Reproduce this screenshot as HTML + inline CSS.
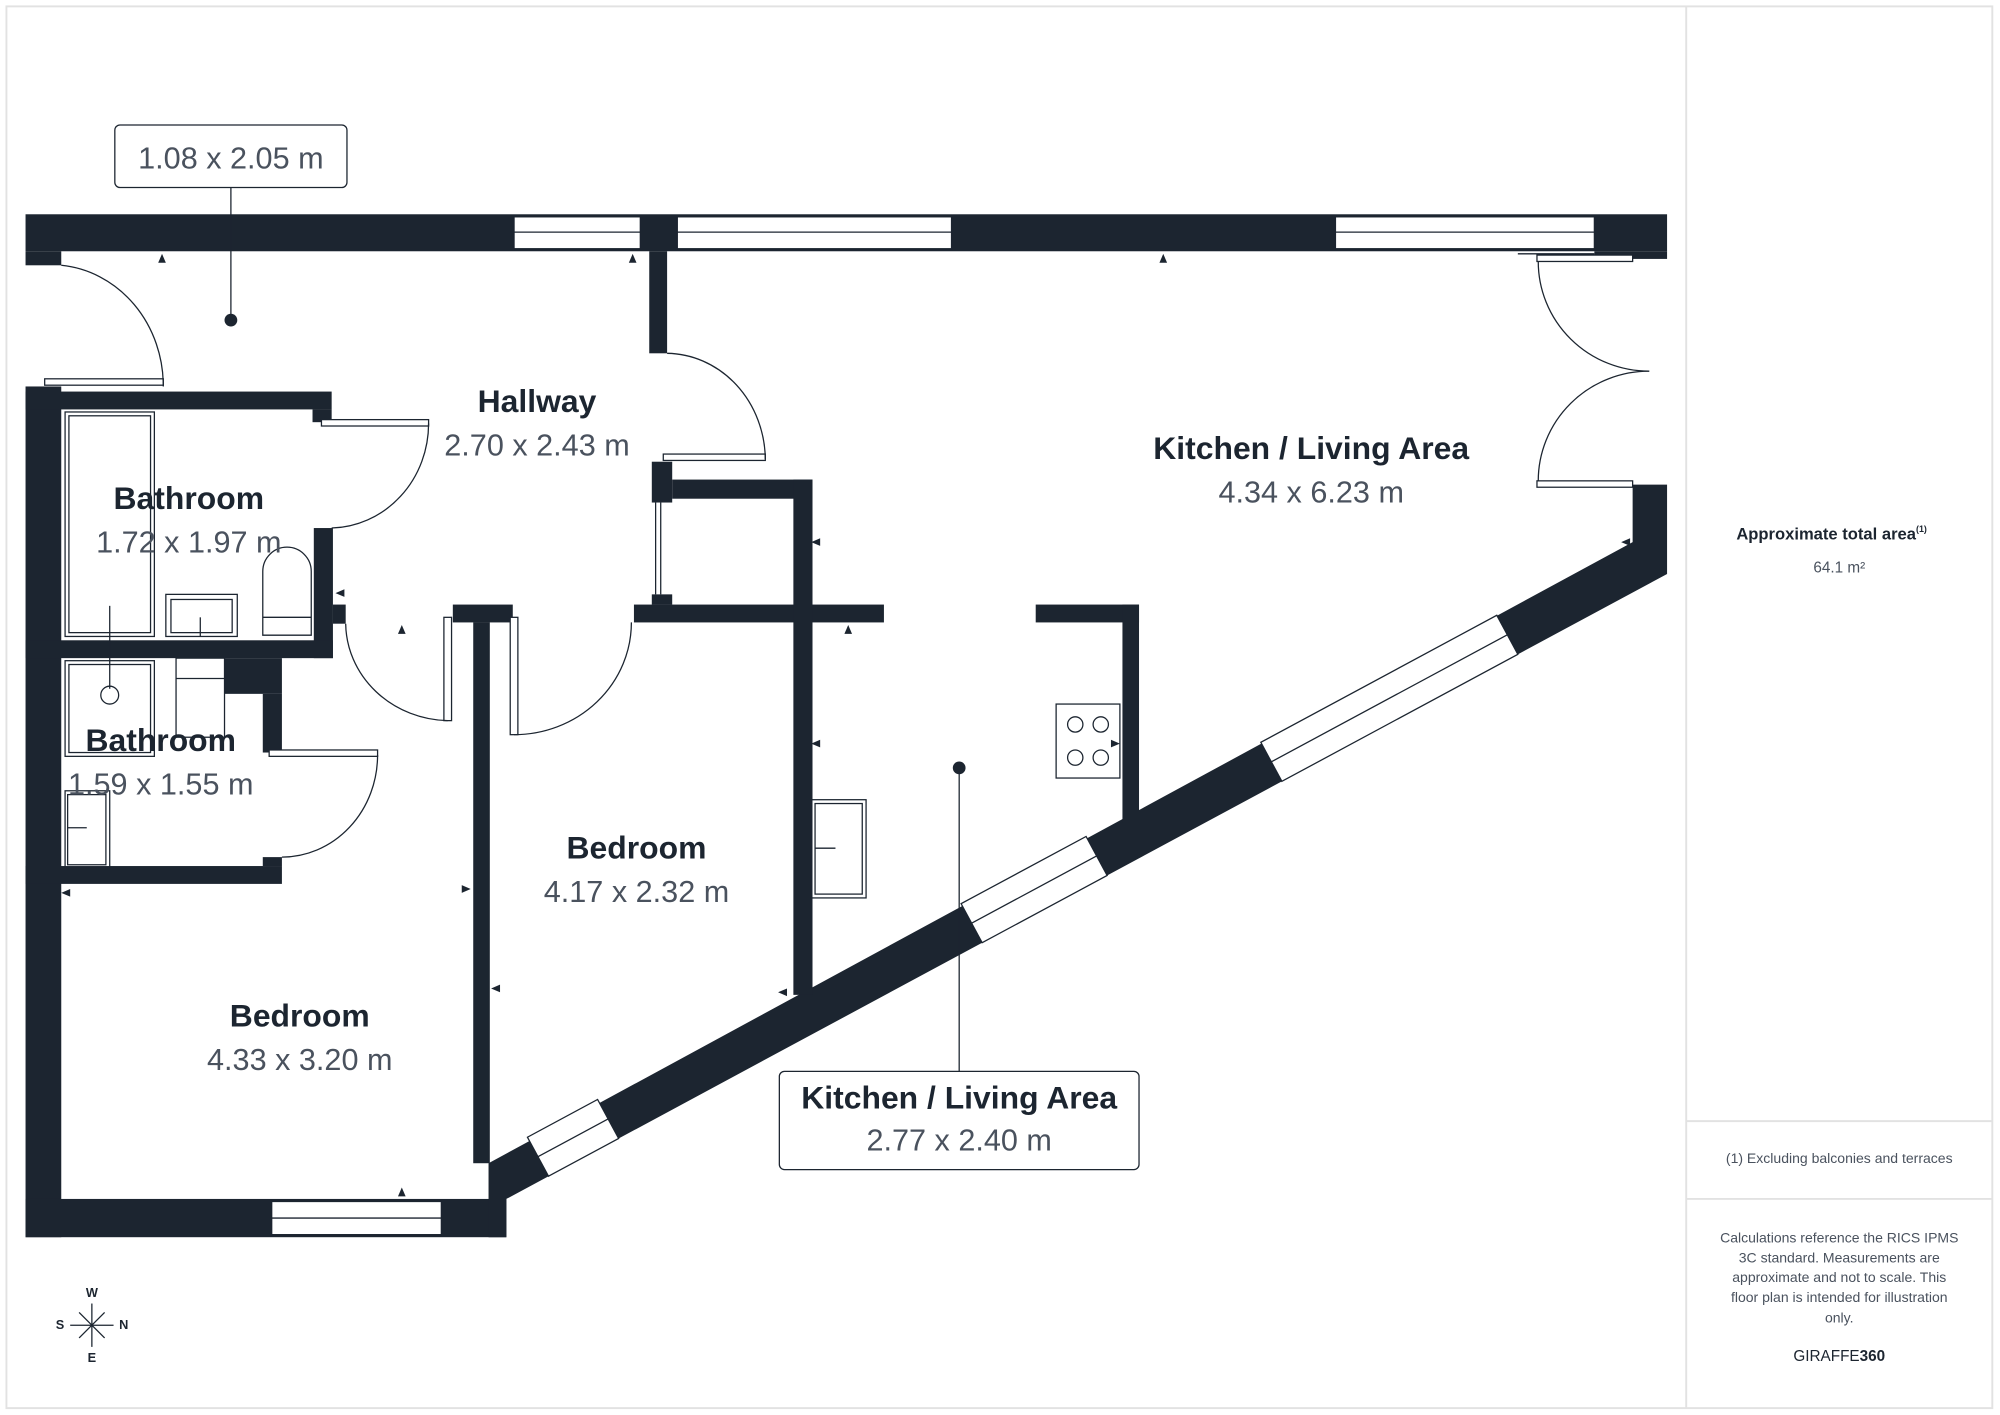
<!DOCTYPE html>
<html><head><meta charset="utf-8"><style>
html,body{margin:0;padding:0;background:#fff}
svg{display:block}
text{font-family:"Liberation Sans",sans-serif}
.n{font-weight:bold;fill:#1c2530;font-size:25px;text-anchor:middle}
.d{fill:#4a525e;font-size:24px;text-anchor:middle}
</style></head><body>
<svg width="2000" height="1415" viewBox="0 0 1568 1109.4" xmlns="http://www.w3.org/2000/svg">
<rect x="0" y="0" width="1568" height="1110" fill="#fff"/>
<rect x="5" y="5" width="1557" height="1099" fill="none" stroke="#e2e2e2" stroke-width="1.5"/>
<line x1="1322" y1="5" x2="1322" y2="1104" stroke="#e2e2e2" stroke-width="1.5"/>
<line x1="1322" y1="879" x2="1562" y2="879" stroke="#e2e2e2" stroke-width="1.5"/>
<line x1="1322" y1="940" x2="1562" y2="940" stroke="#e2e2e2" stroke-width="1.5"/>
<text x="1436" y="423" text-anchor="middle" font-size="13" font-weight="bold" fill="#1c2530">Approximate total area<tspan font-size="7" dy="-6">(1)</tspan></text>
<text x="1442" y="449" text-anchor="middle" font-size="12" fill="#4a525e">64.1 m²</text>
<text x="1442" y="912" text-anchor="middle" font-size="11" fill="#4a525e">(1) Excluding balconies and terraces</text>
<g font-size="11" fill="#4a525e" text-anchor="middle">
<text x="1442" y="974">Calculations reference the RICS IPMS</text>
<text x="1442" y="990">3C standard. Measurements are</text>
<text x="1442" y="1005">approximate and not to scale. This</text>
<text x="1442" y="1021">floor plan is intended for illustration</text>
<text x="1442" y="1037">only.</text>
</g>
<text x="1442" y="1067" text-anchor="middle" font-size="12" fill="#1c2530">GIRAFFE<tspan font-weight="bold">360</tspan></text>

<g fill="#1c2530">
<rect x="20" y="168" width="1287" height="29"/>
<rect x="20" y="197" width="28" height="11"/>
<rect x="20" y="303" width="28" height="667"/>
<rect x="20" y="940" width="377" height="30"/>
<rect x="1250" y="197" width="57" height="6"/>
<polygon points="1280,380 1307,380 1307,450 397,940 397,970 383,970 383,912 1280,425"/>
<rect x="20" y="307" width="240" height="14"/>
<rect x="245" y="321" width="15" height="10"/>
<rect x="246" y="414" width="15" height="102"/>
<rect x="261" y="474" width="10" height="15"/>
<rect x="20" y="502" width="241" height="14"/>
<rect x="176" y="516" width="45" height="28"/>
<rect x="206" y="544" width="15" height="46"/>
<rect x="20" y="679" width="201" height="14"/>
<rect x="206" y="672" width="15" height="7"/>
<rect x="355" y="474" width="47" height="14"/>
<rect x="371" y="488" width="13" height="424"/>
<rect x="497" y="474" width="196" height="14"/>
<rect x="509" y="197" width="14" height="80"/>
<rect x="511" y="362" width="16" height="32"/>
<rect x="511" y="466" width="16" height="8"/>
<rect x="527" y="376" width="110" height="15"/>
<rect x="622" y="376" width="15" height="404"/>
<rect x="812" y="474" width="81" height="14"/>
<rect x="880" y="474" width="13" height="171"/>
</g>
<g fill="#fff" stroke="#1c2530" stroke-width="1">
<rect x="403" y="170" width="99" height="25"/>
<rect x="531" y="170" width="215" height="25"/>
<rect x="1047" y="170" width="203" height="25"/>
<rect x="213" y="942" width="133" height="26"/>
<polygon points="1005,612.6 1190,513 1173.5,482.4 988.5,582"/>
<polygon points="770,739.1 868,686.4 851.5,655.8 753.5,708.5"/>
<polygon points="430,922.2 485,892.6 468.5,862 413.5,891.6"/>
</g>
<g stroke="#1c2530" stroke-width="1" fill="none">
<line x1="403" y1="182" x2="502" y2="182"/><line x1="531" y1="182" x2="746" y2="182"/><line x1="1047" y1="182" x2="1250" y2="182"/>
<line x1="213" y1="955" x2="346" y2="955"/>
<line x1="996.75" y1="597.3" x2="1181.75" y2="497.7"/>
<line x1="761.75" y1="723.8" x2="859.75" y2="671.1"/>
<line x1="421.75" y1="906.9" x2="476.75" y2="877.3"/>
<rect x="35" y="297" width="93" height="5" fill="#fff"/>
<path d="M48,208 A88,95 0 0 1 128,303"/>
<rect x="252" y="329" width="84" height="5" fill="#fff"/>
<path d="M336,332 A78,82 0 0 1 260,414"/>
<rect x="520" y="356" width="80" height="5" fill="#fff"/>
<path d="M523,277 A78,84 0 0 1 600,360"/>
<rect x="211" y="588" width="85" height="5" fill="#fff"/>
<path d="M296,592 A75,80 0 0 1 221,672"/>
<rect x="348" y="484" width="6" height="81" fill="#fff"/>
<path d="M271,489 A82,77 0 0 0 351,565"/>
<rect x="400" y="484" width="6" height="92" fill="#fff"/>
<path d="M495,488 A92,88 0 0 1 403,576"/>
<line x1="514" y1="394" x2="514" y2="466"/><line x1="518" y1="394" x2="518" y2="466"/>
<line x1="1190" y1="199" x2="1250" y2="199"/>
<rect x="1205" y="200" width="75" height="5" fill="#fff"/>
<rect x="1205" y="377" width="75" height="5" fill="#fff"/>
<path d="M1206,205 A87,86 0 0 0 1293,291"/>
<path d="M1293,291 A87,86 0 0 0 1206,377"/>
<rect x="51" y="323" width="70" height="176"/><rect x="54" y="326" width="64" height="170"/>
<rect x="130" y="466" width="56" height="33"/><rect x="134" y="470" width="48" height="26"/>
<line x1="157" y1="484" x2="157" y2="499"/>
<path d="M206,498 V448 A19,19 0 0 1 244,448 V498 Z"/><line x1="206" y1="484" x2="244" y2="484"/>
<rect x="51" y="518" width="70" height="75"/><rect x="54" y="521" width="64" height="69"/>
<circle cx="86" cy="545" r="7"/><line x1="86" y1="475" x2="86" y2="540"/>
<rect x="138" y="516" width="38" height="62"/><line x1="138" y1="532" x2="176" y2="532"/>
<rect x="51" y="620" width="35" height="60"/><rect x="53" y="623" width="30" height="55"/><line x1="53" y1="649" x2="68" y2="649"/>
<rect x="828" y="552" width="50" height="58"/>
<circle cx="843" cy="568" r="6"/><circle cx="863" cy="568" r="6"/><circle cx="843" cy="594" r="6"/><circle cx="863" cy="594" r="6"/>
<rect x="636" y="627" width="43" height="77"/><rect x="639" y="630" width="37" height="71"/><line x1="639" y1="665" x2="655" y2="665"/>
</g>
<g fill="#1c2530">
<polygon points="124,206 130,206 127,199"/><polygon points="493,206 499,206 496,199"/><polygon points="909,206 915,206 912,199"/>
<polygon points="312,497 318,497 315,490"/><polygon points="662,497 668,497 665,490"/><polygon points="312,938 318,938 315,931"/>
<polygon points="643,422 643,428 636,425"/><polygon points="643,580 643,586 636,583"/><polygon points="617,775 617,781 610,778"/>
<polygon points="392,772 392,778 385,775"/><polygon points="362,694 362,700 369,697"/><polygon points="270,462 270,468 263,465"/>
<polygon points="55,697 55,703 48,700"/><polygon points="1278,422 1278,428 1271,425"/><polygon points="871,580 871,586 878,583"/>
</g>
<text class="n" x="421" y="323">Hallway</text><text class="d" x="421" y="357">2.70 x 2.43 m</text>
<text class="n" x="148" y="399">Bathroom</text><text class="d" x="148" y="433">1.72 x 1.97 m</text>
<text class="n" x="126" y="589">Bathroom</text><text class="d" x="126" y="623">1.59 x 1.55 m</text>
<text class="n" x="499" y="673">Bedroom</text><text class="d" x="499" y="707">4.17 x 2.32 m</text>
<text class="n" x="235" y="805">Bedroom</text><text class="d" x="235" y="839">4.33 x 3.20 m</text>
<text class="n" x="1028" y="360">Kitchen / Living Area</text><text class="d" x="1028" y="394">4.34 x 6.23 m</text>
<line x1="181" y1="147" x2="181" y2="251" stroke="#1c2530" stroke-width="1"/><circle cx="181" cy="251" r="5" fill="#1c2530"/>
<rect x="90" y="98" width="182" height="49" rx="4" fill="#fff" stroke="#1c2530" stroke-width="1"/>
<text class="d" x="181" y="132">1.08 x 2.05 m</text>
<line x1="752" y1="602" x2="752" y2="840" stroke="#1c2530" stroke-width="1"/><circle cx="752" cy="602" r="5" fill="#1c2530"/>
<rect x="611" y="840" width="282" height="77" rx="4" fill="#fff" stroke="#1c2530" stroke-width="1"/>
<text class="n" x="752" y="869">Kitchen / Living Area</text><text class="d" x="752" y="902">2.77 x 2.40 m</text>
<g stroke="#1c2530" stroke-width="1"><line x1="72" y1="1022" x2="72" y2="1056"/><line x1="55" y1="1039" x2="89" y2="1039"/><line x1="62" y1="1029" x2="82" y2="1049"/><line x1="82" y1="1029" x2="62" y2="1049"/></g>
<g font-size="10" font-weight="bold" fill="#1c2530" text-anchor="middle">
<text x="72" y="1017">W</text><text x="72" y="1068">E</text><text x="47" y="1042">S</text><text x="97" y="1042">N</text></g>
</svg>
</body></html>
